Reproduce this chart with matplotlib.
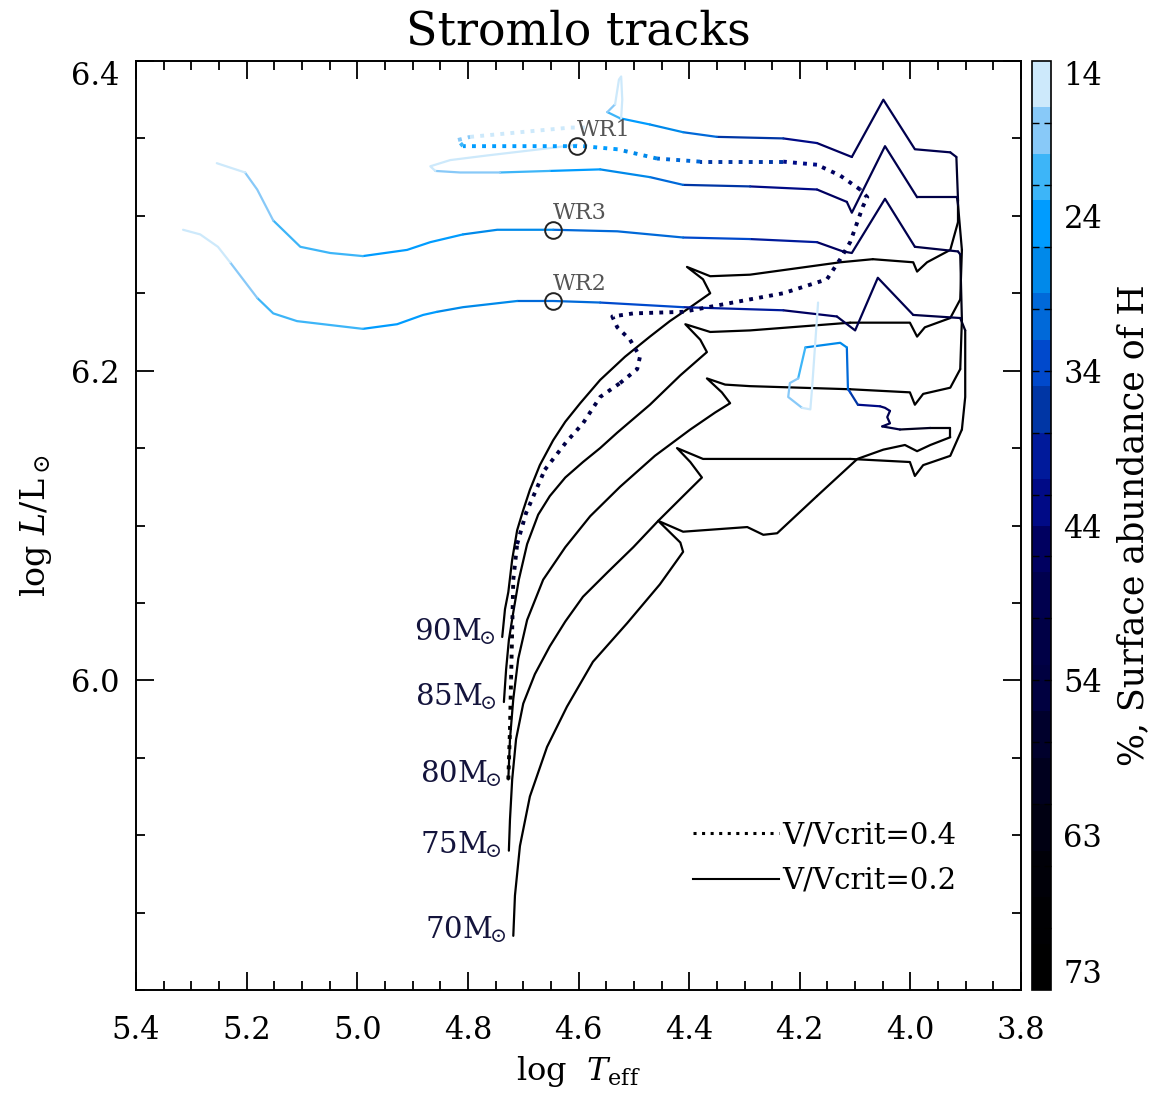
import numpy as np
import matplotlib
matplotlib.use("Agg")
import matplotlib.pyplot as plt
from matplotlib.colors import ListedColormap, BoundaryNorm
from matplotlib.cm import ScalarMappable
from matplotlib.lines import Line2D
from matplotlib.ticker import MultipleLocator

plt.rcParams["font.family"] = ["DejaVu Serif"]
plt.rcParams["mathtext.fontset"] = "dejavuserif"

# colour scale: surface H abundance (%), light = depleted, black = pristine
h_edges = np.linspace(14, 73, 21)
h_colors = ["#cde9fb", "#88c9f8", "#3db5f8", "#009cff", "#0089ea",
            "#0069d9", "#0049cc", "#0036a5", "#001a9b", "#000a86",
            "#000060", "#00004e", "#000046", "#000040", "#00002c",
            "#00001e", "#000012", "#000008", "#000003", "#000000"]
cbar_ticks = [14, 23.83, 33.67, 43.5, 53.33, 63.17, 73]
cbar_labels = ["14", "24", "34", "44", "54", "63", "73"]

# V/Vcrit = 0.2 tracks (log Teff, log L, surface H %)
t90_logt = [4.738, 4.733, 4.727, 4.720, 4.711, 4.700, 4.688, 4.670, 4.646, 4.624,
            4.597, 4.561, 4.516, 4.471, 4.435, 4.398, 4.362, 4.375, 4.404, 4.362,
            4.290, 4.127, 4.068, 3.995, 3.988, 3.970, 3.928, 3.914, 3.914, 3.917,
            3.928, 3.992, 4.049, 4.106, 4.169, 4.230, 4.350, 4.411, 4.471, 4.525,
            4.548, 4.534, 4.527, 4.523, 4.521, 4.523]
t90_logl = [6.028, 6.046, 6.057, 6.078, 6.097, 6.110, 6.123, 6.139, 6.155, 6.167,
            6.179, 6.194, 6.209, 6.222, 6.232, 6.241, 6.250, 6.259, 6.267, 6.261,
            6.262, 6.270, 6.272, 6.270, 6.264, 6.270, 6.278, 6.296, 6.310, 6.338,
            6.341, 6.343, 6.375, 6.338, 6.347, 6.350, 6.351, 6.354, 6.359, 6.363,
            6.367, 6.372, 6.388, 6.390, 6.375, 6.363]
t90_h = [73, 73, 73, 73, 73, 73, 73, 73, 73, 73,
         73, 73, 73, 73, 73, 73, 73, 73, 73, 73,
         73, 73, 73, 72, 72, 72, 71, 70, 64, 52,
         50, 48, 47, 46, 45, 40, 32, 28, 26, 22,
         19, 17, 15, 14, 14, 14]

t85_logt = [4.735, 4.731, 4.726, 4.718, 4.708, 4.693, 4.673, 4.652, 4.624, 4.592,
            4.561, 4.530, 4.471, 4.416, 4.368, 4.380, 4.407, 4.362, 4.290, 4.109,
            4.001, 3.988, 3.974, 3.928, 3.910, 3.907, 3.914, 3.916, 3.988, 4.046,
            4.106, 4.115, 4.169, 4.290, 4.411, 4.471, 4.561, 4.652, 4.742, 4.814,
            4.859, 4.868, 4.832, 4.765, 4.646, 4.603]
t85_logl = [5.986, 6.007, 6.026, 6.044, 6.065, 6.088, 6.107, 6.119, 6.131, 6.141,
            6.150, 6.160, 6.178, 6.197, 6.212, 6.220, 6.230, 6.225, 6.226, 6.231,
            6.231, 6.222, 6.228, 6.234, 6.246, 6.278, 6.307, 6.312, 6.312, 6.345,
            6.302, 6.309, 6.317, 6.319, 6.320, 6.325, 6.330, 6.329, 6.328, 6.328,
            6.329, 6.332, 6.336, 6.339, 6.344, 6.346]
t85_h = [73, 73, 73, 73, 73, 73, 73, 73, 73, 73,
         73, 73, 73, 73, 73, 73, 73, 73, 73, 73,
         72, 72, 72, 71, 70, 68, 62, 52, 49, 48,
         47, 46, 45, 40, 32, 28, 25, 23, 20, 18,
         17, 16, 16, 15, 15, 14]

t80_logt = [4.727, 4.724, 4.718, 4.709, 4.693, 4.664, 4.624, 4.579, 4.525, 4.462,
            4.398, 4.353, 4.326, 4.341, 4.368, 4.335, 4.290, 4.109, 4.001, 3.992,
            3.977, 3.928, 3.910, 3.907, 3.910, 3.914, 3.992, 4.046, 4.106, 4.122,
            4.169, 4.290, 4.411, 4.530, 4.646, 4.747, 4.809, 4.868, 4.910, 4.990,
            5.049, 5.103, 5.152, 5.181, 5.203, 5.254]
t80_logl = [5.936, 5.962, 5.988, 6.014, 6.039, 6.065, 6.086, 6.106, 6.125, 6.145,
            6.162, 6.173, 6.179, 6.186, 6.195, 6.191, 6.190, 6.188, 6.186, 6.178,
            6.185, 6.189, 6.201, 6.233, 6.275, 6.277, 6.280, 6.311, 6.276, 6.277,
            6.283, 6.285, 6.286, 6.290, 6.291, 6.291, 6.288, 6.283, 6.278, 6.274,
            6.276, 6.280, 6.297, 6.317, 6.328, 6.334]
t80_h = [73, 73, 73, 73, 73, 73, 73, 73, 73, 73,
         73, 73, 73, 73, 73, 73, 73, 73, 72, 72,
         72, 71, 70, 68, 58, 52, 49, 48, 47, 46,
         44, 36, 33, 30, 29, 27, 26, 25, 24, 23,
         22, 21, 20, 18, 16, 15]

t75_logt = [4.726, 4.724, 4.720, 4.713, 4.700, 4.679, 4.652, 4.624, 4.592, 4.547,
            4.501, 4.456, 4.411, 4.377, 4.398, 4.422, 4.375, 4.290, 4.109, 4.001,
            3.992, 3.977, 3.928, 3.907, 3.901, 3.901, 3.910, 3.995, 4.059, 4.100,
            4.133, 4.230, 4.411, 4.561, 4.646, 4.711, 4.809, 4.856, 4.881, 4.928,
            4.990, 5.109, 5.152, 5.181, 5.230, 5.252, 5.284, 5.315]
t75_logl = [5.890, 5.910, 5.936, 5.962, 5.985, 6.004, 6.022, 6.038, 6.054, 6.070,
            6.086, 6.103, 6.119, 6.131, 6.141, 6.150, 6.143, 6.143, 6.143, 6.141,
            6.132, 6.139, 6.145, 6.162, 6.183, 6.226, 6.234, 6.236, 6.260, 6.226,
            6.235, 6.239, 6.241, 6.244, 6.245, 6.245, 6.241, 6.238, 6.236, 6.230,
            6.227, 6.232, 6.237, 6.247, 6.270, 6.280, 6.288, 6.291]
t75_h = [73, 73, 73, 73, 73, 73, 73, 73, 73, 73,
         73, 73, 73, 73, 73, 73, 73, 73, 73, 72,
         72, 72, 71, 70, 69, 66, 54, 49, 48, 47,
         46, 42, 35, 32, 30, 29, 27, 26, 25, 24,
         23, 22, 21, 19, 17, 16, 15, 14]

t70_logt = [4.718, 4.715, 4.706, 4.688, 4.657, 4.621, 4.574, 4.512, 4.453, 4.411,
            4.416, 4.456, 4.411, 4.295, 4.266, 4.241, 4.169, 4.096, 4.049, 4.010,
            3.988, 3.964, 3.928, 3.928, 3.964, 4.019, 4.051, 4.037, 4.042, 4.037,
            4.046, 4.055, 4.095, 4.109, 4.113, 4.115, 4.127, 4.190, 4.203, 4.218,
            4.221, 4.196, 4.181, 4.178, 4.167]
t70_logl = [5.835, 5.861, 5.893, 5.925, 5.957, 5.983, 6.012, 6.037, 6.062, 6.083,
            6.089, 6.103, 6.096, 6.099, 6.094, 6.095, 6.119, 6.143, 6.149, 6.152,
            6.148, 6.152, 6.157, 6.163, 6.163, 6.162, 6.164, 6.166, 6.170, 6.174,
            6.176, 6.177, 6.178, 6.186, 6.188, 6.215, 6.218, 6.215, 6.195, 6.192,
            6.183, 6.176, 6.175, 6.188, 6.244]
t70_h = [73, 73, 73, 73, 73, 73, 73, 73, 73, 73,
         73, 73, 73, 73, 73, 73, 73, 72, 72, 72,
         71, 71, 70, 68, 64, 58, 50, 48, 47, 46,
         45, 44, 40, 35, 30, 28, 27, 26, 19, 18,
         18, 17, 16, 15, 14]

# V/Vcrit = 0.4 track, 80 Msun
d80_logt = [4.727, 4.724, 4.722, 4.720, 4.718, 4.711, 4.695, 4.661, 4.622, 4.592,
            4.561, 4.525, 4.494, 4.489, 4.507, 4.530, 4.539, 4.501, 4.411, 4.321,
            4.230, 4.151, 4.127, 4.109, 4.086, 4.078, 4.091, 4.127, 4.169, 4.230,
            4.380, 4.458, 4.530, 4.592, 4.652, 4.742, 4.809, 4.818, 4.796, 4.706,
            4.615, 4.585]
d80_logl = [5.936, 5.968, 6.001, 6.033, 6.065, 6.088, 6.108, 6.136, 6.154, 6.166,
            6.183, 6.192, 6.201, 6.209, 6.220, 6.228, 6.235, 6.237, 6.238, 6.244,
            6.250, 6.259, 6.272, 6.283, 6.306, 6.312, 6.317, 6.326, 6.333, 6.335,
            6.335, 6.337, 6.343, 6.345, 6.345, 6.345, 6.345, 6.349, 6.351, 6.354,
            6.357, 6.357]
d80_h = [73, 70, 66, 62, 58, 55, 53, 52, 51, 50,
         50, 49, 49, 49, 48, 48, 48, 48, 48, 48,
         48, 48, 48, 48, 48, 47, 46, 45, 44, 40,
         33, 29, 26, 25, 24, 24, 23, 20, 16, 15,
         15, 14]

solid_tracks = [(t90_logt, t90_logl, t90_h), (t85_logt, t85_logl, t85_h),
                (t80_logt, t80_logl, t80_h), (t75_logt, t75_logl, t75_h),
                (t70_logt, t70_logl, t70_h)]
track_masses = [90, 85, 80, 75, 70]

wr_names = ["WR1", "WR3", "WR2"]
wr_logt = [4.603, 4.646, 4.646]
wr_logl = [6.345, 6.291, 6.245]

cmap = ListedColormap(h_colors)
norm = BoundaryNorm(h_edges, cmap.N)


def draw_track(ax, logt, logl, h, dotted=False):
    logt = np.asarray(logt)
    logl = np.asarray(logl)
    h = np.asarray(h, dtype=float)
    idx = np.asarray(norm(0.5 * (h[:-1] + h[1:])))
    if dotted:
        kw = dict(lw=2.8, ls=(0, (1.0, 1.6)), dash_capstyle="butt")
    else:
        kw = dict(lw=1.6, solid_joinstyle="round", solid_capstyle="round")
    start = 0
    n = len(idx)
    for i in range(1, n + 1):
        if i == n or idx[i] != idx[start]:
            ax.plot(logt[start:i + 1], logl[start:i + 1], color=cmap(int(idx[start])), **kw)
            start = i


fig = plt.figure(figsize=(11.5, 11.01), dpi=100)
ax = fig.add_axes([0.1183, 0.1008, 0.7696, 0.8438])
cax = fig.add_axes([0.8974, 0.1008, 0.0165, 0.8438])

for logt, logl, h in solid_tracks:
    draw_track(ax, logt, logl, h)
draw_track(ax, d80_logt, d80_logl, d80_h, dotted=True)

for (logt, logl, h), m in zip(solid_tracks, track_masses):
    ax.annotate(f"$\\mathrm{{{m}M}}_{{\\!\\!\\odot}}$", xy=(logt[0], logl[0]), xytext=(-5, -2),
                textcoords="offset points", ha="right", va="baseline",
                fontsize=21, color="#14143c")

ax.plot(wr_logt, wr_logl, "o", ms=12, mfc="none", mec="#222222", mew=1.4)
for name, x, y in zip(wr_names, wr_logt, wr_logl):
    ax.annotate(name, xy=(x, y), xytext=(0, 4), textcoords="offset points",
                ha="left", va="bottom", fontsize=16, color="#555555")

ax.set_xlim(5.4, 3.8)
ax.set_ylim(5.8, 6.4)
ax.set_xticks(np.arange(5.4, 3.79, -0.2),
              labels=["5.4", "5.2", "5.0", "4.8", "4.6", "4.4", "4.2", "4.0", "3.8"])
ax.set_yticks([6.0, 6.2, 6.4], labels=["6.0", "6.2", "6.4"])
ax.xaxis.set_minor_locator(MultipleLocator(0.05))
ax.yaxis.set_minor_locator(MultipleLocator(0.05))
ax.tick_params(which="both", direction="in", top=True, right=True, width=1.3, labelsize=22)
ax.tick_params(which="major", length=13)
ax.tick_params(which="minor", length=6.5)
ax.tick_params(axis="x", pad=18)
ax.tick_params(axis="y", pad=12)
ax.yaxis.get_major_ticks()[-1].label1.set_verticalalignment("top")
for sp in ax.spines.values():
    sp.set_linewidth(1.4)

ax.set_title("Stromlo tracks", fontsize=33, pad=12)
ax.set_xlabel(r"log  $T_{\rm eff}$", fontsize=23, labelpad=6)
ax.set_ylabel(r"log $L/\mathrm{L}_\odot$", fontsize=24, labelpad=12)

handles = [Line2D([], [], color="k", lw=2.2, ls=(0, (1.0, 1.8))),
           Line2D([], [], color="k", lw=1.5)]
ax.legend(handles, ["V/Vcrit=0.4", "V/Vcrit=0.2"], loc="lower right",
          bbox_to_anchor=(0.94, 0.09), borderaxespad=0, frameon=False,
          fontsize=21, handlelength=2.95, handletextpad=0.1, labelspacing=0.6)

sm = ScalarMappable(norm=norm, cmap=cmap)
cbar = fig.colorbar(sm, cax=cax)
cax.invert_yaxis()
cbar.set_ticks(cbar_ticks, labels=cbar_labels)
cbar.set_ticks(np.linspace(14, 73, 16), minor=True)
cax.tick_params(which="major", length=0, labelsize=22, pad=9)
cax.tick_params(which="minor", direction="in", length=5, width=1, left=True, right=True)
cbar.outline.set_linewidth(1.2)
cax.yaxis.get_major_ticks()[0].label2.set_verticalalignment("top")
cax.yaxis.get_major_ticks()[-1].label2.set_verticalalignment("bottom")
cbar.set_label("%, Surface abundance of H", fontsize=25, labelpad=10)

fig.savefig("out.png", dpi=100)
